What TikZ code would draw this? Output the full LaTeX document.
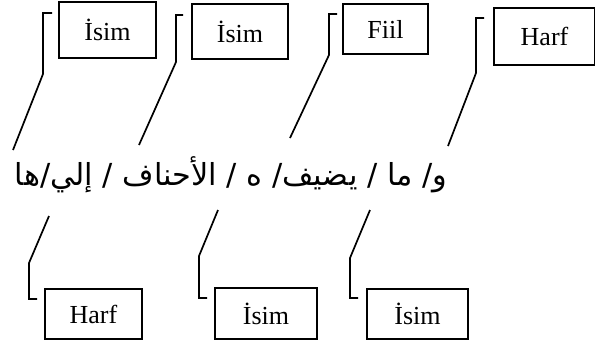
\documentclass[tikz,border=0pt]{standalone}
\usepackage{fontspec}
\setmainfont{Liberation Serif}
\newfontfamily\arabicfont[Script=Arabic]{DejaVu Sans}
\TeXXeTstate=1
\begin{document}
\begin{tikzpicture}[x=1pt,y=-1pt,
  lbl/.style={draw,line width=1.9pt,inner sep=0pt,font=\fontsize{26}{30}\selectfont},
  con/.style={line width=1.7pt}]
\useasboundingbox (0,0) rectangle (595,346);
% top boxes
\node[lbl,minimum width=97pt,minimum height=56pt] (b1) at (107.5,30) {İsim};
\node[lbl,minimum width=96pt,minimum height=55pt] (b2) at (240,31.5) {İsim};
\node[lbl,minimum width=85pt,minimum height=50pt] (b3) at (385.5,29) {Fiil};
\node[lbl,minimum width=101pt,minimum height=57pt] (b4) at (544.5,36.5) {Harf};
% bottom boxes
\node[lbl,minimum width=97pt,minimum height=50pt] (c1) at (93.5,314) {Harf};
\node[lbl,minimum width=102pt,minimum height=51pt] (c2) at (266,313.5) {İsim};
\node[lbl,minimum width=101pt,minimum height=50pt] (c3) at (417.5,314) {İsim};
% arabic text
\node[inner sep=0pt] (ar) at (231,175) {\resizebox{432pt}{!}{\arabicfont\beginR و/ ما / يضيف/ ه / الأحناف / إلي/ها\endR}};
% top connectors
\coordinate (t1) at (52,13);  \coordinate (e1) at (13,150);
\coordinate (t2) at (183,15); \coordinate (e2) at (139,145);
\coordinate (t3) at (337,14); \coordinate (e3) at (290,138);
\coordinate (t4) at (484,18); \coordinate (e4) at (448,146);
\draw[con] (t1) -- (43,13) -- (43,74) -- (e1);
\draw[con] (t2) -- (176,15) -- (176,62) -- (e2);
\draw[con] (t3) -- (329,14) -- (329,55) -- (e3);
\draw[con] (t4) -- (476,18) -- (476,73) -- (e4);
% bottom connectors
\coordinate (s1) at (49,216);  \coordinate (u1) at (37,299);
\coordinate (s2) at (218,210); \coordinate (u2) at (207,298);
\coordinate (s3) at (370,210); \coordinate (u3) at (358,298);
\draw[con] (s1) -- (29,263) -- (29,299) -- (u1);
\draw[con] (s2) -- (199,256) -- (199,298) -- (u2);
\draw[con] (s3) -- (350,258) -- (350,298) -- (u3);
\end{tikzpicture}
\end{document}
